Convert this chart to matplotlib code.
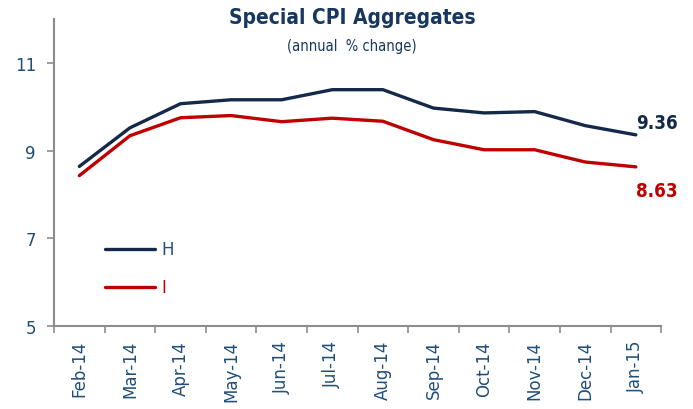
import numpy as np
import matplotlib.pyplot as plt

months = ['Feb-14', 'Mar-14', 'Apr-14', 'May-14', 'Jun-14', 'Jul-14',
          'Aug-14', 'Sep-14', 'Oct-14', 'Nov-14', 'Dec-14', 'Jan-15']
h_vals = [8.64, 9.52, 10.07, 10.16, 10.16, 10.39, 10.39, 9.97, 9.86, 9.89, 9.57, 9.36]
i_vals = [8.43, 9.34, 9.75, 9.80, 9.66, 9.74, 9.67, 9.25, 9.02, 9.02, 8.74, 8.63]
y_ticks = [5, 7, 9, 11]

navy = '#14294A'
red = '#C00000'
txt = '#1F4E79'
grey = '#8C8C8C'

fig = plt.figure(figsize=(6.93, 4.10), dpi=100)
ax = fig.add_axes([0.078, 0.2024, 0.876, 0.7486])

x = np.arange(len(months))
ax.plot(x, h_vals, color=navy, lw=2.4, solid_capstyle='round', solid_joinstyle='round')
ax.plot(x, i_vals, color=red, lw=2.4, solid_capstyle='round', solid_joinstyle='round')

# end labels
ax.annotate(f'{h_vals[-1]:.2f}', (x[-1], h_vals[-1]), xytext=(0, 2),
            textcoords='offset points', color=navy, fontsize=13.5,
            fontweight='bold', fontstretch='condensed', va='bottom', ha='left')
ax.annotate(f'{i_vals[-1]:.2f}', (x[-1], i_vals[-1]), xytext=(0, -10),
            textcoords='offset points', color=red, fontsize=13.5,
            fontweight='bold', fontstretch='condensed', va='top', ha='left')

# legend drawn by hand inside the axes
ax.plot([0.5, 1.5], [6.75, 6.75], color=navy, lw=2.4, solid_capstyle='round')
ax.plot([0.5, 1.5], [5.89, 5.89], color=red, lw=2.4, solid_capstyle='round')
ax.text(1.62, 6.75, 'H', color=txt, fontsize=12, va='center')
ax.text(1.62, 5.89, 'I', color=red, fontsize=12, va='center')

ax.set_xlim(-0.5, len(months) - 0.5)
ax.set_ylim(5, 12)
ax.set_yticks(y_ticks)
ax.set_xticks(x)
ax.set_xticklabels(months, rotation=90)
ax.set_xticks(np.arange(-0.5, len(months)), minor=True)
ax.tick_params(axis='x', which='major', length=0, pad=10, labelsize=12, labelcolor=txt)
ax.tick_params(axis='x', which='minor', length=5, color=grey, width=1.2, direction='out')
ax.tick_params(axis='y', length=5, color=grey, width=1.2, labelsize=12, labelcolor=txt, pad=8)

for s in ['top', 'right']:
    ax.spines[s].set_visible(False)
for s in ['left', 'bottom']:
    ax.spines[s].set_color(grey)
    ax.spines[s].set_linewidth(1.5)

fig.text(0.508, 0.957, 'Special CPI Aggregates', ha='center', va='center',
         color='#17375E', fontsize=15, fontweight='bold', fontstretch='condensed')
fig.text(0.508, 0.886, '(annual  % change)', ha='center', va='center',
         color='#17375E', fontsize=10.5, fontstretch='condensed')

fig.savefig('out.png', dpi=100)
